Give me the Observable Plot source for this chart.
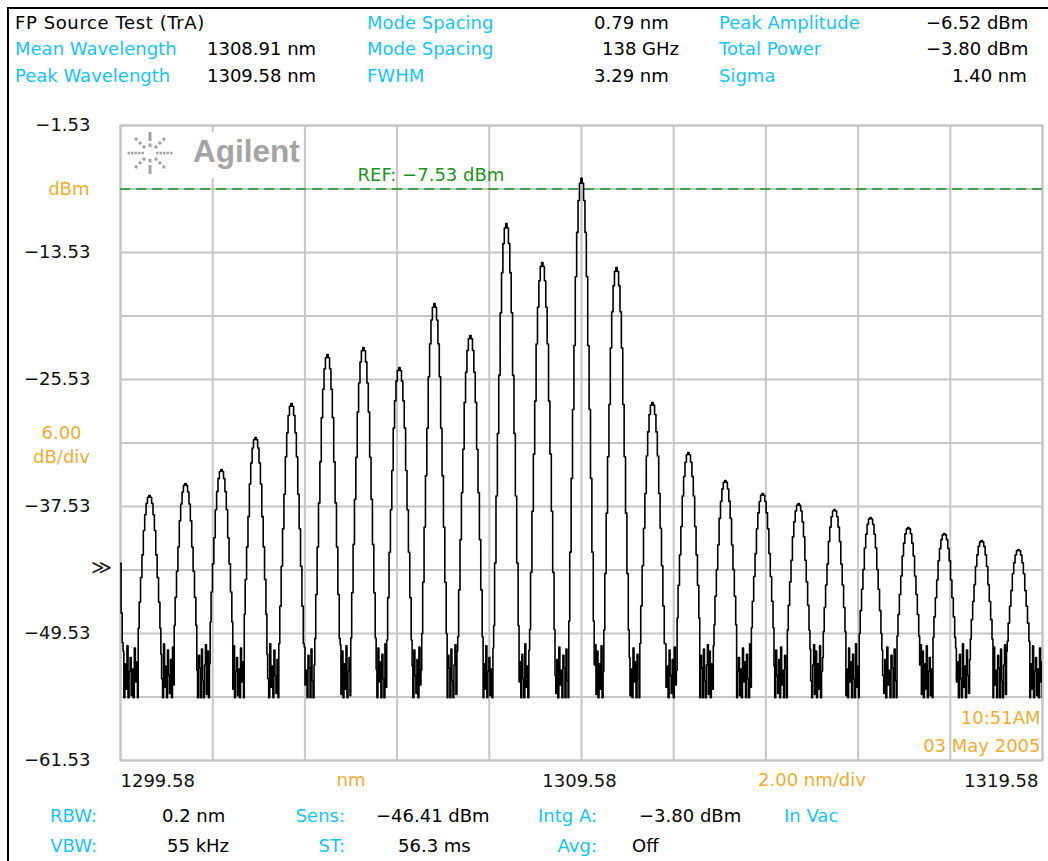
<!DOCTYPE html>
<html>
<head>
<meta charset="utf-8">
<script src="https://cdn.jsdelivr.net/npm/d3@7"></script>
<script src="https://cdn.jsdelivr.net/npm/@observablehq/plot@0.6"></script>
<style>
  body { margin: 0; background: #fff; }
  #screen { position: relative; width: 1048px; height: 861px; background: #fff; overflow: hidden;
            font-family: "DejaVu Sans", sans-serif; font-size: 18px; }
  #screen .t { position: absolute; white-space: pre; line-height: 20px; }
  #screen .edge { position: absolute; background: #000; }
  #screen svg { position: absolute; left: 0; top: 0; }
</style>
</head>
<body>
<div id="screen"></div>
<script>
// ---- Trace data: longitudinal modes of the Fabry-Perot source ----
const modeWavelength = [1300.21, 1300.99, 1301.77, 1302.51, 1303.29, 1304.07, 1304.85, 1305.63,
  1306.39, 1307.17, 1307.95, 1308.73, 1309.58, 1310.34, 1311.12, 1311.90, 1312.70, 1313.51,
  1314.29, 1315.07, 1315.85, 1316.67, 1317.45, 1318.26, 1319.06];
const modePeak = [-36.49, -35.36, -34.04, -31.01, -27.80, -23.17, -22.51, -24.40,
  -18.35, -21.37, -10.79, -14.47, -6.52, -14.95, -27.70, -32.43, -35.07, -36.30,
  -37.25, -37.81, -38.57, -39.51, -40.08, -40.75, -41.60];

// Filter skirt of one mode: distance from the mode centre (nm) and the share of the
// mode's height above the noise floor that has been lost at that distance
const profileOffset   = [0, 0.03, 0.06, 0.09, 0.12, 0.15, 0.18, 0.21, 0.24, 0.27, 0.30];
const profileFraction = [0, 0.01, 0.045, 0.11, 0.20, 0.34, 0.47, 0.61, 0.76, 0.90, 1.0];
const floorLevel = -53;     // mean noise floor under the skirts (dBm)

// Tail of the mode just below the start wavelength, at the left edge of the sweep
const edgeWavelength = [1299.58, 1299.605, 1299.63];
const edgeLevel = [-42.9, -47.6, -50.4];

// Noise-floor samples between modes (dBm), in sweep order
const floorNoise = [-51.2, -55.6, -52.4, -54.8, -50.7, -55.6, -53.1, -51.8, -55.4, -52.9,
  -55.6, -50.9, -54.1, -52.2, -55.6, -51.5, -53.8, -55.6, -50.5, -54.6,
  -52.6, -55.6, -51.1, -53.5, -55.2, -52.0, -55.6, -50.8, -54.4, -53.0,
  -55.6, -51.6, -52.8, -55.6, -51.0, -54.0, -55.6, -52.5, -50.6, -55.3];

// ---- Axes and reference ----
const xGrid = [1299.58, 1301.58, 1303.58, 1305.58, 1307.58, 1309.58, 1311.58, 1313.58, 1315.58, 1317.58, 1319.58];
const xLabelTicks = [1299.58, 1309.58, 1319.58];
const yGrid = [-1.53, -7.53, -13.53, -19.53, -25.53, -31.53, -37.53, -43.53, -49.53, -55.53, -61.53];
const yLabelTicks = [-1.53, -13.53, -25.53, -37.53, -49.53, -61.53];
const refLevel = -7.53;
const dbPerDiv = 6;
const nmPerDiv = 2;
const timeText = "10:51AM";
const dateText = "03 May 2005";

// ---- Measurement readouts ----
const titleText = "FP Source Test (TrA)";
const wavelengthNames = ["Mean Wavelength", "Peak Wavelength"];
const wavelengthValues = ["1308.91 nm", "1309.58 nm"];
const spacingNames = ["Mode Spacing", "Mode Spacing", "FWHM"];
const spacingValues = ["0.79 nm", "138 GHz", "3.29 nm"];
const powerNames = ["Peak Amplitude", "Total Power", "Sigma"];
const powerValues = ["−6.52 dBm", "−3.80 dBm", "1.40 nm"];
const settingNamesTop = ["RBW:", "Sens:", "Intg A:"];
const settingValuesTop = ["0.2 nm", "−46.41 dBm", "−3.80 dBm"];
const settingNamesBottom = ["VBW:", "ST:", "Avg:"];
const settingValuesBottom = ["55 kHz", "56.3 ms", "Off"];
const mediumText = "In Vac";

// ---- Colours ----
const cyan = "#14c4f6";
const amber = "#efad2e";
const green = "#1a961a";
const gridGray = "#c6c6c6";

const fmt = d => (d < 0 ? "−" : "") + Math.abs(d).toFixed(2);

// ---- Build the swept trace ----
const floorTop = -50.5;     // a skirt disappears into the noise below this level
const sweepStep = 0.022;    // nm between trace points in the floor
let noiseIndex = 0;
function floorRun(a, b) {
  const n = Math.max(2, Math.round((b - a) / sweepStep));
  const pts = [];
  for (let s = 0; s < n; s++) {
    pts.push({wl: a + (b - a) * (s + 0.5) / n, dB: floorNoise[noiseIndex++ % floorNoise.length]});
  }
  return pts;
}
function skirtLevel(i, j) {
  return floorLevel + (modePeak[i] - floorLevel) * (1 - profileFraction[j]);
}
function skirt(i) {
  const pts = [];
  for (let j = profileOffset.length - 1; j > 0; j--) {
    const v = skirtLevel(i, j);
    if (v > floorTop) pts.push({wl: modeWavelength[i] - profileOffset[j], dB: v});
  }
  pts.push({wl: modeWavelength[i], dB: modePeak[i]});
  for (let j = 1; j < profileOffset.length; j++) {
    const v = skirtLevel(i, j);
    if (v > floorTop) pts.push({wl: modeWavelength[i] + profileOffset[j], dB: v});
  }
  return pts;
}
const trace = edgeWavelength.map((wl, i) => ({wl, dB: edgeLevel[i]}));
let prevEnd = edgeWavelength[edgeWavelength.length - 1];
modeWavelength.forEach((_, i) => {
  const sk = skirt(i);
  trace.push(...floorRun(prevEnd, sk[0].wl), ...sk);
  prevEnd = sk[sk.length - 1].wl;
});
trace.push(...floorRun(prevEnd, xGrid[xGrid.length - 1]));
trace.push({wl: xGrid[xGrid.length - 1], dB: floorNoise[noiseIndex % floorNoise.length]});

// ---- Plot ----
const W = 1048, H = 861;
const mLeft = 120, mRight = 6, mTop = 125, mBottom = 101;

const chart = Plot.plot({
  width: W, height: H,
  marginLeft: mLeft, marginRight: mRight, marginTop: mTop, marginBottom: mBottom,
  x: {domain: [xGrid[0], xGrid[xGrid.length - 1]], label: null},
  y: {domain: [yGrid[yGrid.length - 1], yGrid[0]], label: null},
  style: {fontFamily: "DejaVu Sans, sans-serif", fontSize: "18px", background: "transparent", overflow: "visible"},
  marks: [
    Plot.gridX(xGrid, {stroke: gridGray, strokeOpacity: 1, strokeWidth: 2}),
    Plot.gridY(yGrid, {stroke: gridGray, strokeOpacity: 1, strokeWidth: 2}),
    Plot.frame({stroke: gridGray, strokeWidth: 2}),
    Plot.ruleY([refLevel], {stroke: green, strokeWidth: 1.6, strokeDasharray: "10,6"}),
    Plot.text([refLevel], {y: d => d, frameAnchor: "left", dx: 237, dy: -14, textAnchor: "start",
      fill: green, text: d => `REF: ${fmt(d)} dBm`}),
    Plot.line(trace, {x: "wl", y: "dB", curve: "step", stroke: "#000", strokeWidth: 1.6, clip: true}),
    // y axis labels and annotations
    Plot.axisY(yLabelTicks, {tickSize: 0, tickPadding: 30, tickFormat: fmt, label: null, fill: "#111"}),
    Plot.text([yGrid[1]], {y: d => d, frameAnchor: "left", dx: -31, textAnchor: "end", fill: amber, text: () => "dBm"}),
    Plot.text([yGrid[5]], {y: d => d, frameAnchor: "left", dx: -59, textAnchor: "middle", lineHeight: 1.35,
      fill: amber, text: () => `${dbPerDiv.toFixed(2)}\ndB/div`}),
    Plot.text([-43.3], {y: d => d, frameAnchor: "left", dx: -19, textAnchor: "middle", fontSize: 20,
      fill: "#222", text: () => "≫"}),
    // x axis labels and annotations
    Plot.axisX([xLabelTicks[0]], {tickSize: 0, tickPadding: 14, textAnchor: "start", tickFormat: d => d.toFixed(2), label: null, fill: "#111"}),
    Plot.axisX([xLabelTicks[1]], {tickSize: 0, tickPadding: 14, textAnchor: "middle", dx: -2, tickFormat: d => d.toFixed(2), label: null, fill: "#111"}),
    Plot.axisX([xLabelTicks[2]], {tickSize: 0, tickPadding: 14, textAnchor: "end", dx: -4, tickFormat: d => d.toFixed(2), label: null, fill: "#111"}),
    Plot.text([(xGrid[2] + xGrid[3]) / 2], {x: d => d, frameAnchor: "bottom", lineAnchor: "middle", dy: 20, fill: amber, text: () => "nm"}),
    Plot.text([(xGrid[7] + xGrid[8]) / 2], {x: d => d, frameAnchor: "bottom", lineAnchor: "middle", dy: 20, fill: amber,
      text: () => `${nmPerDiv.toFixed(2)} nm/div`}),
    // timestamp
    Plot.text([timeText], {frameAnchor: "bottom-right", lineAnchor: "middle", textAnchor: "end", dx: -2, dy: -42, fill: amber, text: d => d}),
    Plot.text([dateText], {frameAnchor: "bottom-right", lineAnchor: "middle", textAnchor: "end", dx: -2, dy: -14, fill: amber, text: d => d})
  ]
});

// Instrument logo in the upper-left corner of the graticule
const svg = d3.select(chart);
const logo = svg.append("g").attr("transform", `translate(${mLeft + 30},${mTop + 28})`);
logo.append("rect").attr("x", -27).attr("y", -21).attr("width", 178).attr("height", 46).attr("fill", "#fff");
const logoGray = "#a4a4a4";
for (let a = 0; a < 360; a += 45) {
  const g = logo.append("g").attr("transform", `rotate(${a})`);
  if (a % 180 === 90) {          // vertical rays: small square then a bar
    g.append("rect").attr("x", 6).attr("y", -1.5).attr("width", 3.5).attr("height", 3).attr("fill", logoGray);
    g.append("rect").attr("x", 12).attr("y", -1.5).attr("width", 9).attr("height", 3).attr("fill", logoGray);
  } else if (a % 180 === 0) {    // horizontal rays: row of dots
    [6, 9.5, 13, 16.5, 20].forEach(r =>
      g.append("rect").attr("x", r).attr("y", -1.25).attr("width", 2.5).attr("height", 2.5).attr("fill", logoGray));
  } else {                        // diagonal rays: three squares
    [[7, 3], [12.5, 3], [18, 3]].forEach(([r, s]) =>
      g.append("rect").attr("x", r).attr("y", -s / 2).attr("width", s).attr("height", s).attr("fill", logoGray));
  }
}
logo.append("text").attr("x", 43).attr("y", 9).attr("text-anchor", "start")
  .style("font-family", "'Liberation Sans', Arial, sans-serif").style("font-weight", "bold").style("font-size", "31.5px")
  .attr("fill", logoGray).text("Agilent");

// ---- Page assembly ----
const screenEl = document.getElementById("screen");
screenEl.appendChild(chart);

function place(text, x, yMid, color, anchor = "start", spacing = 0) {
  const el = document.createElement("div");
  el.className = "t";
  el.textContent = text;
  el.style.color = color;
  el.style.top = (yMid - 10) + "px";
  if (spacing) el.style.letterSpacing = spacing + "px";
  if (anchor === "end") { el.style.right = (W - x) + "px"; }
  else { el.style.left = x + "px"; }
  screenEl.appendChild(el);
}

// header readouts
const rowY = [23, 49, 76];
place(titleText, 15, rowY[0], "#000", "start", 0.6);
wavelengthNames.forEach((t, i) => place(t, 15, rowY[i + 1], cyan));
wavelengthValues.forEach((t, i) => place(t, 207, rowY[i + 1], "#000"));
spacingNames.forEach((t, i) => place(t, 367, rowY[i], cyan));
const spacingLeft = [594, 602, 594];
spacingValues.forEach((t, i) => place(t, spacingLeft[i], rowY[i], "#000"));
powerNames.forEach((t, i) => place(t, 719, rowY[i], cyan));
const powerLeft = [926, 926, 952];
powerValues.forEach((t, i) => place(t, powerLeft[i], rowY[i], "#000"));

// footer settings
const footY = [816, 846];
const nameRight = [97, 345, 597];
settingNamesTop.forEach((t, i) => place(t, nameRight[i], footY[0], cyan, "end"));
settingNamesBottom.forEach((t, i) => place(t, nameRight[i], footY[1], cyan, "end"));
[162, 376, 639].forEach((x, i) => place(settingValuesTop[i], x, footY[0], "#000"));
[167, 398, 632].forEach((x, i) => place(settingValuesBottom[i], x, footY[1], "#000"));
place(mediumText, 784, footY[0], cyan);

// screen bezel edges
const bezelTop = document.createElement("div");
bezelTop.className = "edge";
Object.assign(bezelTop.style, {left: "7px", top: "7px", width: (W - 7) + "px", height: "2px"});
const bezelLeft = document.createElement("div");
bezelLeft.className = "edge";
Object.assign(bezelLeft.style, {left: "7px", top: "7px", width: "2px", height: (H - 7) + "px"});
screenEl.append(bezelTop, bezelLeft);
</script>
</body>
</html>
